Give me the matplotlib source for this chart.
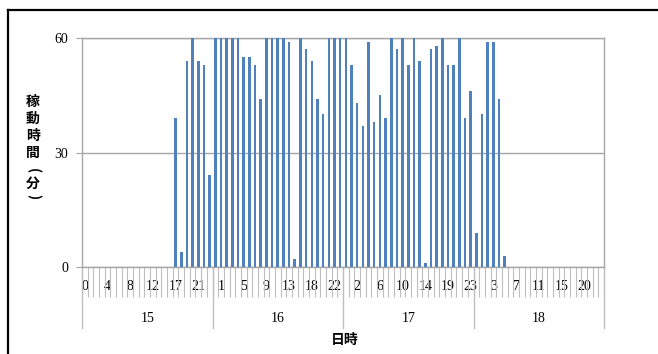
import matplotlib
matplotlib.use("Agg")
import matplotlib.pyplot as plt
from matplotlib.lines import Line2D
import numpy as np

# ---- data ----
days = ["15", "16", "17", "18"]
hours_15 = [0, 1, 2, 3, 4, 5, 6, 7, 8, 9, 10, 11, 12, 13, 14, 15, 17, 18, 19, 20, 21, 22, 23]
hours_16 = [0, 1, 2, 3, 4, 5, 6, 7, 8, 9, 10, 11, 12, 13, 14, 15, 16, 18, 19, 20, 21, 22, 23]
hours_17 = [0, 1, 2, 3, 4, 5, 6, 7, 8, 9, 10, 11, 12, 13, 14, 15, 16, 17, 19, 20, 21, 22, 23]
hours_18 = [0, 1, 2, 3, 4, 5, 6, 7, 8, 9, 10, 11, 12, 13, 14, 15, 16, 17, 18, 20, 21, 22, 23]

vals_15 = [0, 0, 0, 0, 0, 0, 0, 0, 0, 0, 0, 0, 0, 0, 0, 0,
           39, 4, 54, 60, 54, 53, 24]
vals_16 = [60, 60, 60, 60, 60, 55, 55, 53, 44, 60, 60, 60, 60, 59, 2, 60,
           57, 54, 44, 40, 60, 60, 60]
vals_17 = [60, 53, 43, 37, 59, 38, 45, 39, 60, 57, 60, 53, 60, 54, 1, 57,
           58, 60, 53, 53, 60, 39, 46]
vals_18 = [9, 40, 59, 59, 44, 3, 0, 0, 0, 0, 0, 0, 0, 0, 0, 0,
           0, 0, 0, 0, 0, 0, 0]

y_ticks = [0, 30, 60]
y_label_chars = ["稼", "動", "時", "間", "(", "分", ")"]
x_title = "日時"

hours_by_day = [hours_15, hours_16, hours_17, hours_18]
values = vals_15 + vals_16 + vals_17 + vals_18
hour_labels = [str(h) for hs in hours_by_day for h in hs]
n = len(values)
xpos = np.arange(n) + 0.5

W, H = 658, 354
fig = plt.figure(figsize=(W / 100, H / 100), dpi=100)
ax = fig.add_axes([82 / W, 1 - 267 / H, (604 - 82) / W, (267 - 38) / H])

bar_color = "#4F81BD"
grid_color = "#A6A6A6"
light = "#BFBFBF"
num_font = dict(fontfamily="Liberation Serif", fontsize=10)

ax.bar(xpos, values, width=0.45, color=bar_color, zorder=3)
ax.set_xlim(0, n)
ax.set_ylim(0, 60)

# y axis
ax.set_yticks(y_ticks)
ax.set_yticklabels([str(t) for t in y_ticks], **num_font)
ax.tick_params(axis="y", length=4, color=grid_color, pad=6)
ax.yaxis.grid(True, color=grid_color, linewidth=1.0, zorder=0)

for side in ["left", "right", "top", "bottom"]:
    ax.spines[side].set_color(grid_color)
    ax.spines[side].set_linewidth(1.0)

# x axis: minor ticks at category boundaries, labels every 4 categories
ax.set_xticks(np.arange(0, n + 1), minor=True)
ax.tick_params(axis="x", which="minor", length=21.5, color=light, width=0.8)
lab_idx = np.arange(0, n, 4)
ax.set_xticks(xpos[lab_idx])
ax.set_xticklabels([hour_labels[i] for i in lab_idx], **num_font)
ax.tick_params(axis="x", which="major", length=0, pad=9)

# day level
trans = ax.get_xaxis_transform()
start = 0
for d, hs in zip(days, hours_by_day):
    end = start + len(hs)
    ax.text((start + end) / 2, -51 / 229, d, transform=trans, ha="center", va="center", **num_font)
    start = end
bounds = np.cumsum([0] + [len(hs) for hs in hours_by_day])
for b in bounds:
    ax.add_line(Line2D([b, b], [0, -61 / 229], transform=trans, color=light,
                       linewidth=1.0, clip_on=False))

# titles
fig.text(345 / W, 1 - 340 / H, x_title, ha="center", va="center",
         fontfamily="Noto Sans CJK JP", fontweight="bold", fontsize=10)
ylab_y = [102, 119, 136, 153, 171, 184, 197]
for ch, yy in zip(y_label_chars, ylab_y):
    rot = -90 if ch in "()" else 0
    fig.text(33 / W, 1 - yy / H, ch, ha="center", va="center", rotation=rot,
             fontfamily="Noto Sans CJK JP", fontweight="bold", fontsize=10)

# outer frame (left & top)
fig.add_artist(Line2D([8 / W, 8 / W], [0, 1 - 10 / H], color="black", linewidth=1.6))
fig.add_artist(Line2D([8 / W, 1], [1 - 10 / H, 1 - 10 / H], color="black", linewidth=1.6))

fig.savefig("out.png", dpi=100)
